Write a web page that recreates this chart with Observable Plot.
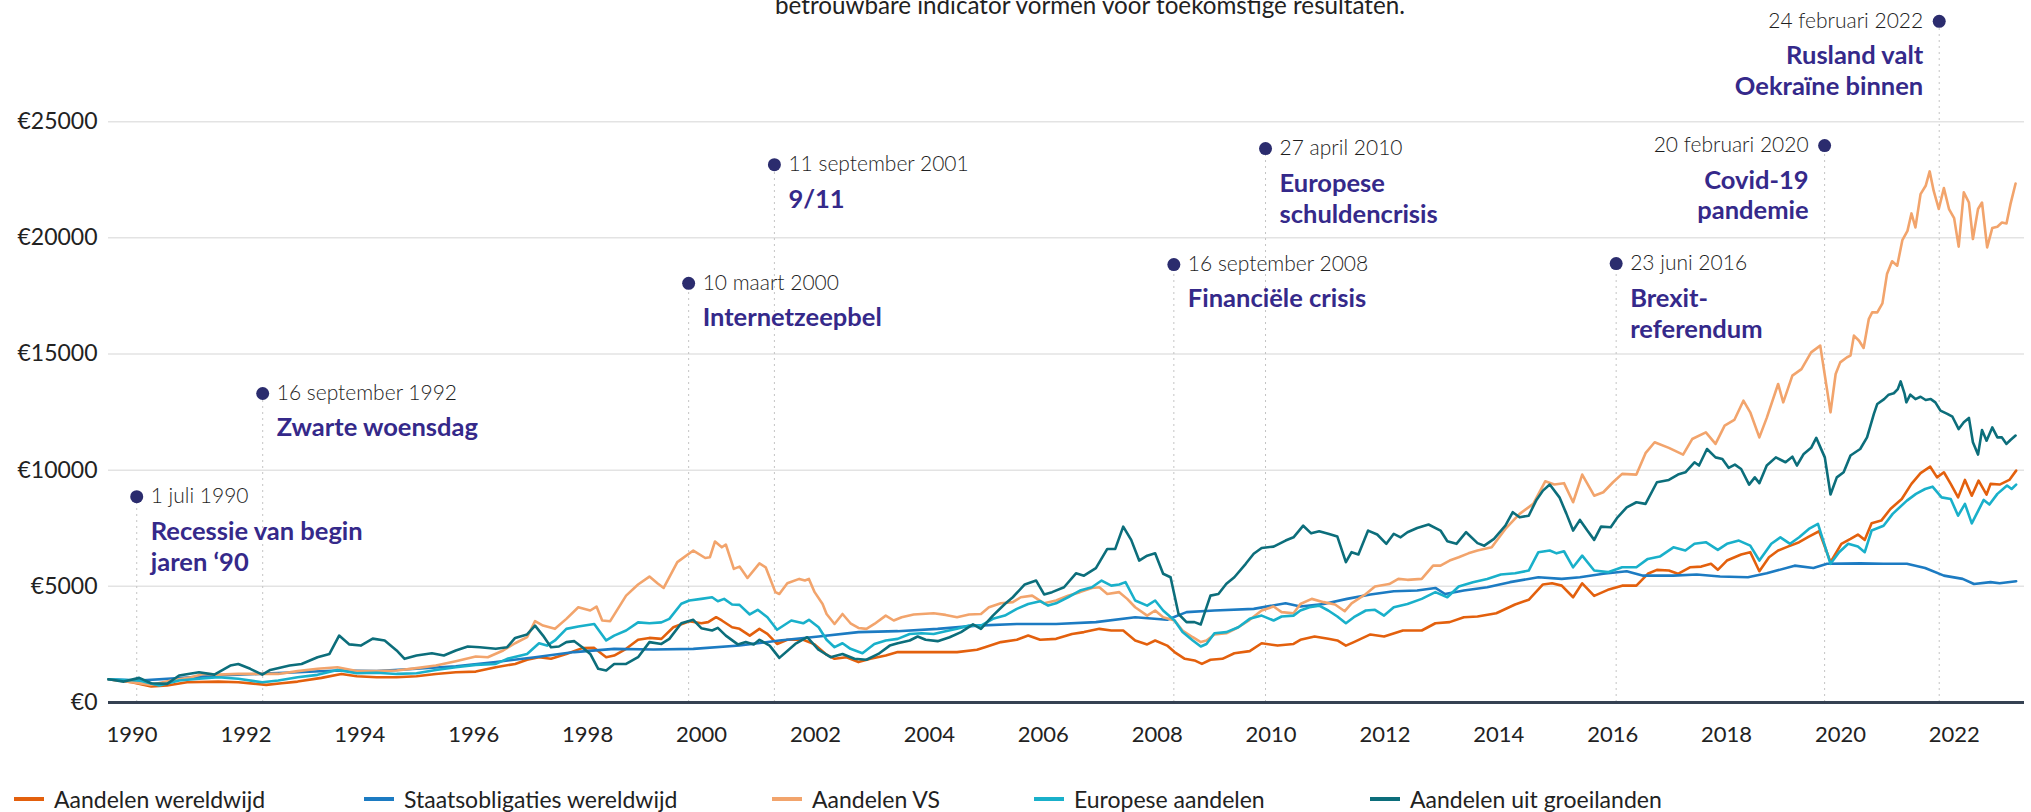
<!DOCTYPE html>
<html>
<head>
<meta charset="utf-8">
<script src="https://cdn.jsdelivr.net/npm/d3@7"></script>
<script src="https://cdn.jsdelivr.net/npm/@observablehq/plot@0.6"></script>
<style>
  html, body { margin: 0; padding: 0; background: #fff; overflow: hidden; }
  body { width: 2031px; height: 812px; position: relative; font-family: "Source Sans Pro", Lato, "Noto Sans", sans-serif; color: #222; }
  #subtitle { position: absolute; left: 775px; top: -7px; font-size: 24.2px; line-height: 23px; white-space: nowrap; color: #222; }
  #chart svg { display: block; }
  #legend { display: flex; margin-top: 25px; padding-left: 14px; font-size: 23px; line-height: 28px; color: #222; }
  .item { display: flex; align-items: center; }
  .sw { width: 30px; height: 4px; margin-right: 10px; flex: none; }
</style>
</head>
<body>
<div id="subtitle">betrouwbare indicator vormen voor toekomstige resultaten.</div>
<div id="chart"></div>
<div id="legend"></div>
<script>
// ---- Data (decimal year, € value of an initial €1000) ----
const seriesNames = ["Aandelen wereldwijd", "Staatsobligaties wereldwijd", "Aandelen VS", "Europese aandelen", "Aandelen uit groeilanden"];
const seriesColors = ["#e3600d", "#1c7bc2", "#f2a46c", "#19b0ca", "#0c6e7b"];

const aandelenWereldwijd = [[1990.00,1000],[1990.41,870],[1990.75,690],[1991.03,730],[1991.38,870],[1991.93,900],[1992.28,870],[1992.77,760],[1993.04,830],[1993.32,900],[1993.74,1060],[1994.09,1230],[1994.36,1130],[1994.71,1090],[1995.06,1090],[1995.41,1130],[1995.75,1230],[1996.10,1300],[1996.45,1330],[1996.80,1520],[1997.14,1660],[1997.35,1840],[1997.56,1950],[1997.77,1880],[1998.04,2090],[1998.32,2340],[1998.53,2350],[1998.74,1950],[1998.88,2020],[1999.09,2310],[1999.30,2700],[1999.50,2780],[1999.71,2740],[1999.92,3240],[2000.20,3500],[2000.41,3410],[2000.53,3460],[2000.67,3670],[2000.77,3530],[2000.95,3240],[2001.08,3170],[2001.26,2880],[2001.43,3170],[2001.57,2950],[2001.74,2520],[2001.92,2700],[2002.20,2700],[2002.40,2500],[2002.61,2060],[2002.75,1880],[2002.96,1950],[2003.17,1740],[2003.38,1880],[2003.65,2020],[2003.86,2170],[2004.21,2170],[2004.56,2170],[2004.90,2170],[2005.25,2270],[2005.39,2380],[2005.67,2600],[2005.95,2700],[2006.15,2880],[2006.36,2700],[2006.64,2740],[2006.92,2950],[2007.13,3030],[2007.40,3170],[2007.61,3100],[2007.82,3100],[2008.03,2670],[2008.24,2500],[2008.38,2670],[2008.59,2450],[2008.72,2170],[2008.90,1880],[2009.07,1810],[2009.20,1660],[2009.35,1840],[2009.56,1880],[2009.77,2120],[2010.04,2210],[2010.25,2550],[2010.53,2450],[2010.81,2520],[2010.93,2700],[2011.18,2840],[2011.42,2740],[2011.58,2670],[2011.73,2450],[2011.87,2600],[2012.16,2930],[2012.40,2840],[2012.73,3100],[2013.06,3100],[2013.30,3410],[2013.55,3460],[2013.80,3670],[2014.04,3700],[2014.37,3840],[2014.70,4220],[2014.94,4420],[2015.19,5080],[2015.35,5130],[2015.52,5030],[2015.72,4530],[2015.88,5130],[2016.09,4590],[2016.33,4850],[2016.58,5030],[2016.83,5030],[2017.03,5540],[2017.19,5710],[2017.40,5680],[2017.56,5540],[2017.77,5820],[2017.97,5850],[2018.14,5970],[2018.26,5710],[2018.42,6110],[2018.67,6370],[2018.83,6470],[2018.99,5650],[2019.16,6250],[2019.32,6540],[2019.49,6710],[2019.69,6900],[2019.86,7140],[2020.04,7370],[2020.24,6040],[2020.43,6830],[2020.59,7040],[2020.72,7230],[2020.84,7000],[2020.96,7710],[2021.13,7830],[2021.29,8330],[2021.49,8760],[2021.66,9410],[2021.82,9870],[2021.99,10150],[2022.11,9690],[2022.23,9910],[2022.35,9410],[2022.48,8830],[2022.60,9580],[2022.72,8900],[2022.84,9550],[2022.98,8950],[2023.05,9410],[2023.21,9380],[2023.38,9580],[2023.50,9980]];

const staatsobligaties = [[1990.00,1000],[1990.54,950],[1991.24,1050],[1991.93,1160],[1992.63,1230],[1993.32,1300],[1994.02,1380],[1994.71,1350],[1995.41,1450],[1996.10,1560],[1996.80,1740],[1997.49,1950],[1998.18,2170],[1998.88,2310],[1999.57,2280],[2000.27,2310],[2001.08,2450],[2001.78,2670],[2002.47,2840],[2003.17,3030],[2003.86,3070],[2004.56,3170],[2005.25,3310],[2005.95,3380],[2006.64,3380],[2007.34,3460],[2008.03,3670],[2008.59,3560],[2008.93,3890],[2009.42,3960],[2010.11,4030],[2010.67,4270],[2010.93,4130],[2011.34,4240],[2011.75,4460],[2012.16,4650],[2012.57,4790],[2012.98,4820],[2013.30,4930],[2013.47,4670],[2013.80,4820],[2014.21,4960],[2014.61,5180],[2015.11,5390],[2015.52,5320],[2015.84,5390],[2016.25,5540],[2016.66,5650],[2016.95,5460],[2017.48,5460],[2017.89,5510],[2018.30,5420],[2018.79,5390],[2019.12,5560],[2019.61,5890],[2019.94,5790],[2020.18,5970],[2020.76,5990],[2021.17,5970],[2021.58,5970],[2021.90,5790],[2022.23,5460],[2022.56,5320],[2022.76,5100],[2023.05,5180],[2023.21,5130],[2023.50,5220]];

const aandelenVS = [[1990.00,1000],[1990.41,870],[1990.75,760],[1991.10,950],[1991.45,1090],[1991.66,1230],[1991.93,1200],[1992.28,1230],[1992.63,1230],[1992.98,1230],[1993.32,1350],[1993.67,1450],[1994.02,1520],[1994.36,1350],[1994.71,1350],[1995.06,1380],[1995.41,1480],[1995.75,1590],[1996.10,1780],[1996.45,1980],[1996.66,1950],[1996.93,2240],[1997.14,2550],[1997.35,2810],[1997.49,3500],[1997.63,3310],[1997.84,3170],[1998.04,3600],[1998.25,4100],[1998.46,3960],[1998.57,4130],[1998.67,3530],[1998.81,3500],[1999.09,4600],[1999.30,5080],[1999.50,5420],[1999.64,5130],[1999.75,4930],[1999.99,6040],[2000.27,6540],[2000.48,6220],[2000.56,6250],[2000.65,6930],[2000.77,6680],[2000.84,6800],[2000.98,5750],[2001.08,5850],[2001.22,5360],[2001.43,5990],[2001.54,5820],[2001.71,4750],[2001.78,4670],[2001.92,5130],[2002.13,5320],[2002.23,5250],[2002.30,5320],[2002.40,4750],[2002.54,4240],[2002.61,3810],[2002.75,3380],[2002.89,3810],[2003.03,3410],[2003.17,3210],[2003.31,3170],[2003.45,3380],[2003.65,3740],[2003.79,3530],[2003.93,3670],[2004.14,3790],[2004.49,3840],[2004.70,3770],[2004.90,3670],[2005.11,3790],[2005.32,3810],[2005.46,4100],[2005.67,4270],[2005.88,4320],[2006.02,4530],[2006.22,4600],[2006.43,4270],[2006.64,4390],[2006.85,4600],[2007.06,4750],[2007.27,4930],[2007.40,4960],[2007.54,4670],[2007.75,4750],[2007.89,4460],[2008.03,4100],[2008.24,3740],[2008.38,3960],[2008.52,3670],[2008.72,3530],[2008.86,3100],[2009.04,2810],[2009.18,2600],[2009.28,2670],[2009.42,2930],[2009.63,2980],[2009.84,3240],[2010.04,3560],[2010.25,3960],[2010.46,4130],[2010.60,3890],[2010.81,3840],[2010.93,4240],[2011.13,4460],[2011.34,4320],[2011.54,4220],[2011.71,3930],[2011.83,4270],[2012.08,4670],[2012.24,4990],[2012.49,5100],[2012.65,5320],[2012.81,5280],[2013.06,5320],[2013.26,5890],[2013.39,5890],[2013.55,6110],[2013.71,6250],[2013.88,6420],[2014.04,6540],[2014.29,6680],[2014.53,7470],[2014.78,8120],[2015.02,8550],[2015.23,9520],[2015.39,9380],[2015.56,9440],[2015.72,8620],[2015.88,9810],[2016.09,8900],[2016.25,9050],[2016.42,9480],[2016.58,9840],[2016.83,9810],[2016.99,10730],[2017.15,11200],[2017.40,10960],[2017.65,10670],[2017.81,11340],[2018.05,11630],[2018.22,11130],[2018.38,11920],[2018.55,12160],[2018.71,12990],[2018.83,12490],[2018.99,11410],[2019.12,12250],[2019.32,13710],[2019.41,12920],[2019.57,14070],[2019.73,14350],[2019.90,15070],[2020.06,15360],[2020.24,12490],[2020.33,14140],[2020.41,14640],[2020.53,14860],[2020.59,14930],[2020.65,15790],[2020.74,15570],[2020.82,15260],[2020.91,16500],[2020.97,16790],[2021.06,16790],[2021.15,17180],[2021.23,18440],[2021.32,18990],[2021.41,18800],[2021.50,19900],[2021.59,20300],[2021.66,21050],[2021.73,20450],[2021.82,21880],[2021.91,22240],[2021.98,22860],[2022.05,22030],[2022.14,21240],[2022.23,22140],[2022.32,21240],[2022.41,20850],[2022.49,19620],[2022.58,21960],[2022.67,21520],[2022.74,19950],[2022.83,21240],[2022.90,21520],[2022.99,19590],[2023.08,20420],[2023.17,20480],[2023.25,20660],[2023.33,20620],[2023.40,21450],[2023.49,22340]];

const europeseAandelen = [[1990.00,1000],[1990.54,950],[1990.89,730],[1991.24,950],[1991.59,1020],[1991.93,1090],[1992.28,1020],[1992.70,870],[1992.98,950],[1993.32,1090],[1993.67,1190],[1994.02,1400],[1994.36,1260],[1994.71,1280],[1995.06,1230],[1995.41,1260],[1995.75,1400],[1996.10,1520],[1996.45,1620],[1996.80,1660],[1997.00,1880],[1997.35,2090],[1997.56,2550],[1997.70,2450],[1997.84,2670],[1998.04,3170],[1998.25,3270],[1998.53,3380],[1998.74,2670],[1998.88,2880],[1999.09,3100],[1999.30,3450],[1999.50,3410],[1999.71,3450],[1999.85,3600],[2000.06,4250],[2000.20,4390],[2000.41,4460],[2000.60,4530],[2000.70,4360],[2000.81,4460],[2000.95,4220],[2001.08,4200],[2001.26,3790],[2001.40,3990],[2001.57,3670],[2001.74,3130],[2001.99,3530],[2002.20,3410],[2002.30,3560],[2002.47,3240],[2002.61,2700],[2002.75,2380],[2002.89,2550],[2003.03,2310],[2003.24,2120],[2003.45,2520],[2003.65,2670],[2003.86,2740],[2004.07,2950],[2004.28,2980],[2004.49,2950],[2004.70,3070],[2004.90,3170],[2005.11,3310],[2005.32,3310],[2005.53,3600],[2005.74,3740],[2005.95,4030],[2006.15,4240],[2006.36,4360],[2006.50,4170],[2006.64,4270],[2006.85,4530],[2007.06,4820],[2007.27,4960],[2007.44,5250],[2007.61,5030],[2007.75,5080],[2007.86,5180],[2008.03,4390],[2008.24,4170],[2008.38,4390],[2008.52,3960],[2008.72,3530],[2008.86,3030],[2009.04,2670],[2009.18,2410],[2009.28,2520],[2009.42,2980],[2009.63,3030],[2009.84,3240],[2010.04,3600],[2010.25,3740],[2010.46,3530],[2010.60,3700],[2010.81,3740],[2010.93,3960],[2011.09,4100],[2011.26,4170],[2011.42,3960],[2011.58,3700],[2011.73,3410],[2011.87,3670],[2012.08,3960],[2012.24,3990],[2012.40,3740],[2012.57,4100],[2012.81,4240],[2013.06,4460],[2013.30,4750],[2013.51,4530],[2013.71,4990],[2013.96,5180],[2014.21,5320],[2014.45,5510],[2014.70,5560],[2014.94,5680],[2015.11,6470],[2015.31,6540],[2015.43,6420],[2015.56,6510],[2015.72,5820],[2015.88,6320],[2016.09,5680],[2016.33,5610],[2016.58,5820],[2016.83,5820],[2017.03,6180],[2017.24,6280],[2017.48,6680],[2017.69,6540],[2017.85,6830],[2018.05,6900],[2018.26,6570],[2018.42,6830],[2018.63,6970],[2018.83,6750],[2018.99,6110],[2019.20,6830],[2019.36,7110],[2019.53,6830],[2019.69,7110],[2019.86,7470],[2020.02,7690],[2020.24,5970],[2020.39,6470],[2020.55,6830],[2020.72,6710],[2020.84,6470],[2020.96,7400],[2021.17,7610],[2021.33,8120],[2021.58,8690],[2021.74,8980],[2021.90,9190],[2022.03,9290],[2022.19,8830],[2022.35,8760],[2022.48,8040],[2022.60,8550],[2022.72,7710],[2022.93,8720],[2023.03,8520],[2023.17,8980],[2023.34,9340],[2023.42,9190],[2023.50,9380]];

const groeilanden = [[1990.00,1000],[1990.27,900],[1990.54,1060],[1990.75,830],[1991.03,800],[1991.24,1160],[1991.59,1300],[1991.86,1200],[1992.14,1590],[1992.28,1660],[1992.49,1450],[1992.70,1200],[1992.84,1400],[1993.18,1590],[1993.39,1660],[1993.67,1950],[1993.88,2090],[1994.05,2880],[1994.23,2500],[1994.43,2450],[1994.64,2750],[1994.85,2670],[1995.06,2240],[1995.20,1880],[1995.41,2020],[1995.68,2120],[1995.89,2020],[1996.10,2240],[1996.31,2410],[1996.52,2380],[1996.80,2310],[1997.00,2380],[1997.14,2780],[1997.35,2930],[1997.49,3310],[1997.63,2880],[1997.77,2380],[1997.91,2410],[1998.04,2600],[1998.18,2640],[1998.32,2380],[1998.46,2090],[1998.60,1450],[1998.74,1380],[1998.88,1660],[1999.09,1660],[1999.30,1950],[1999.50,2600],[1999.71,2520],[1999.85,2740],[2000.06,3410],[2000.27,3560],[2000.41,3200],[2000.60,3100],[2000.70,3210],[2000.84,2880],[2001.05,2500],[2001.19,2600],[2001.33,2500],[2001.43,2700],[2001.61,2450],[2001.78,1920],[2002.06,2520],[2002.27,2810],[2002.47,2270],[2002.68,1950],[2002.89,2090],[2003.10,1880],[2003.31,1840],[2003.52,2090],[2003.72,2450],[2003.86,2550],[2004.07,2670],[2004.21,2840],[2004.35,2700],[2004.56,2640],[2004.77,2810],[2004.97,3030],[2005.18,3360],[2005.32,3170],[2005.53,3740],[2005.74,4240],[2005.88,4530],[2006.09,5080],[2006.29,5250],[2006.43,4650],[2006.57,4750],[2006.78,4960],[2006.99,5560],[2007.13,5460],[2007.34,5780],[2007.54,6610],[2007.68,6610],[2007.82,7570],[2007.96,7000],[2008.10,6110],[2008.24,6320],[2008.38,6420],[2008.52,5540],[2008.65,5390],[2008.79,3810],[2008.93,3460],[2009.07,3460],[2009.18,3360],[2009.35,4600],[2009.49,4670],[2009.63,5110],[2009.77,5390],[2009.97,5970],[2010.11,6400],[2010.25,6650],[2010.46,6710],[2010.67,6970],[2010.81,7110],[2010.98,7610],[2011.12,7280],[2011.26,7370],[2011.42,7260],[2011.58,7140],[2011.73,6040],[2011.83,6470],[2011.95,6370],[2012.12,7400],[2012.28,7230],[2012.44,6830],[2012.57,7260],[2012.69,7110],[2012.81,7330],[2012.98,7510],[2013.18,7660],[2013.39,7400],[2013.51,6940],[2013.67,6830],[2013.84,7330],[2014.04,6860],[2014.16,6750],[2014.33,7040],[2014.53,7610],[2014.66,8190],[2014.78,7970],[2014.94,8040],[2015.07,8690],[2015.19,9120],[2015.31,9380],[2015.48,8830],[2015.60,8140],[2015.72,7400],[2015.84,7860],[2015.97,7400],[2016.09,7000],[2016.21,7570],[2016.38,7540],[2016.50,7970],[2016.66,8400],[2016.83,8620],[2016.99,8550],[2017.19,9480],[2017.40,9580],[2017.56,9810],[2017.69,9910],[2017.85,10340],[2017.93,10200],[2018.07,10910],[2018.22,10550],[2018.34,10480],[2018.45,10100],[2018.56,10240],[2018.67,10050],[2018.81,9380],[2018.91,9690],[2018.99,9440],[2019.12,10200],[2019.28,10550],[2019.45,10340],[2019.57,10580],[2019.65,10200],[2019.77,10700],[2019.90,10960],[2019.99,11390],[2020.14,10550],[2020.24,8950],[2020.35,9690],[2020.47,9910],[2020.59,10630],[2020.76,10910],[2020.88,11410],[2021.00,12420],[2021.06,12850],[2021.18,13060],[2021.26,13250],[2021.35,13310],[2021.42,13490],[2021.47,13820],[2021.54,13280],[2021.57,12920],[2021.64,13250],[2021.73,13060],[2021.82,13160],[2021.91,13020],[2022.00,13060],[2022.08,12920],[2022.17,12560],[2022.29,12420],[2022.38,12300],[2022.49,11770],[2022.58,12060],[2022.67,12250],[2022.74,11200],[2022.83,10670],[2022.90,11730],[2022.98,11270],[2023.08,11840],[2023.17,11410],[2023.25,11410],[2023.33,11130],[2023.40,11300],[2023.49,11490]];

// Events
const eventDates = ["1990-07-01","1992-09-16","2000-03-10","2001-09-11","2008-09-16","2010-04-27","2016-06-23","2020-02-20","2022-02-24"];
const eventDateLabels = ["1 juli 1990","16 september 1992","10 maart 2000","11 september 2001","16 september 2008","27 april 2010","23 juni 2016","20 februari 2020","24 februari 2022"];
const eventTitles = ["Recessie van begin\njaren ‘90","Zwarte woensdag","Internetzeepbel","9/11","Financiële crisis","Europese\nschuldencrisis","Brexit-\nreferendum","Covid-19\npandemie","Rusland valt\nOekraïne binnen"];
const eventLevels = [8860, 13300, 18040, 23150, 18850, 23840, 18890, 23970, 29320];
const eventSides = ["right","right","right","right","right","right","right","left","left"];

// Axes
const yTicks = [0, 5000, 10000, 15000, 20000, 25000];
const xTickYears = [1990,1992,1994,1996,1998,2000,2002,2004,2006,2008,2010,2012,2014,2016,2018,2020,2022];

// ---- Build ----
function dec(y) {
  const yr = Math.floor(y);
  const a = Date.UTC(yr, 0, 1), b = Date.UTC(yr + 1, 0, 1);
  return new Date(a + (y - yr) * (b - a));
}
const seriesData = [aandelenWereldwijd, staatsobligaties, aandelenVS, europeseAandelen, groeilanden];
const rows = seriesData.map((s, i) => s.map(([t, v]) => ({series: seriesNames[i], date: dec(t), value: v})));
const events = eventDates.map((d, i) => ({
  date: new Date(d + "T00:00:00Z"), label: eventDateLabels[i], title: eventTitles[i], y: eventLevels[i], side: eventSides[i]
}));
const xTicks = xTickYears.map(y => new Date(Date.UTC(y, 5, 1)));

const FONT = '"Source Sans Pro", Lato, "Noto Sans", sans-serif';
const titleColor = "#35298a";
const dotColor = "#2b2c6e";
const TITLE_SIZE = 25.5;

const chart = Plot.plot({
  width: 2031,
  height: 760,
  marginLeft: 108,
  marginRight: 7,
  marginTop: 5,
  marginBottom: 58,
  style: {fontFamily: FONT, fontSize: "22px", color: "#222", background: "#fff"},
  x: {type: "utc", domain: [new Date(Date.UTC(1990, 0, 1)), new Date(Date.UTC(2023, 7, 25))]},
  y: {domain: [0, 30000]},
  marks: [
    Plot.gridY(yTicks.filter(d => d > 0), {stroke: "#e3e3e3", strokeOpacity: 1, strokeWidth: 1.5}),
    Plot.axisY({ticks: yTicks, tickSize: 0, tickPadding: 11, tickFormat: d => "€" + d, label: null, fontSize: 23}),
    Plot.axisX({ticks: xTicks, tickSize: 0, tickPadding: 24, tickFormat: d => String(d.getUTCFullYear()), label: null, fontSize: 22}),
    Plot.ruleX(events, {x: "date", y1: d => 0, y2: "y", stroke: "#c4c4c4", strokeWidth: 1, strokeDasharray: "2,4"}),
    ...rows.map((r, i) => Plot.line(r, {x: "date", y: "value", stroke: seriesColors[i], strokeWidth: 2.6, strokeLinejoin: "round"})),
    Plot.ruleY([0], {stroke: "#354152", strokeWidth: 3}),
    Plot.dot(events, {x: "date", y: "y", r: 6.5, fill: dotColor, stroke: "none"}),
    Plot.text(events, {filter: d => d.side === "right", x: "date", y: "y", text: "label", dx: 14, textAnchor: "start", fontSize: 21, fontWeight: 300, fill: "#1e1e1e"}),
    Plot.text(events, {filter: d => d.side === "left", x: "date", y: "y", text: "label", dx: -16, textAnchor: "end", fontSize: 21, fontWeight: 300, fill: "#1e1e1e"}),
    Plot.text(events, {filter: d => d.side === "right", x: "date", y: "y", text: "title", dx: 14, dy: 39 - 0.71 * TITLE_SIZE, lineAnchor: "top", lineHeight: 31 / TITLE_SIZE, textAnchor: "start", fontSize: TITLE_SIZE, fontWeight: 700, fill: titleColor}),
    Plot.text(events, {filter: d => d.side === "left", x: "date", y: "y", text: "title", dx: -16, dy: 39 - 0.71 * TITLE_SIZE, lineAnchor: "top", lineHeight: 31 / TITLE_SIZE, textAnchor: "end", fontSize: TITLE_SIZE, fontWeight: 700, fill: titleColor})
  ]
});
document.getElementById("chart").appendChild(chart);

// Legend
const itemWidths = [350, 408, 262, 336, null];
const legend = document.getElementById("legend");
seriesNames.forEach((name, i) => {
  const it = document.createElement("div");
  it.className = "item";
  if (itemWidths[i]) it.style.width = itemWidths[i] + "px";
  const sw = document.createElement("span");
  sw.className = "sw";
  sw.style.background = seriesColors[i];
  const tx = document.createElement("span");
  tx.textContent = name;
  it.appendChild(sw); it.appendChild(tx);
  legend.appendChild(it);
});
</script>
</body>
</html>
